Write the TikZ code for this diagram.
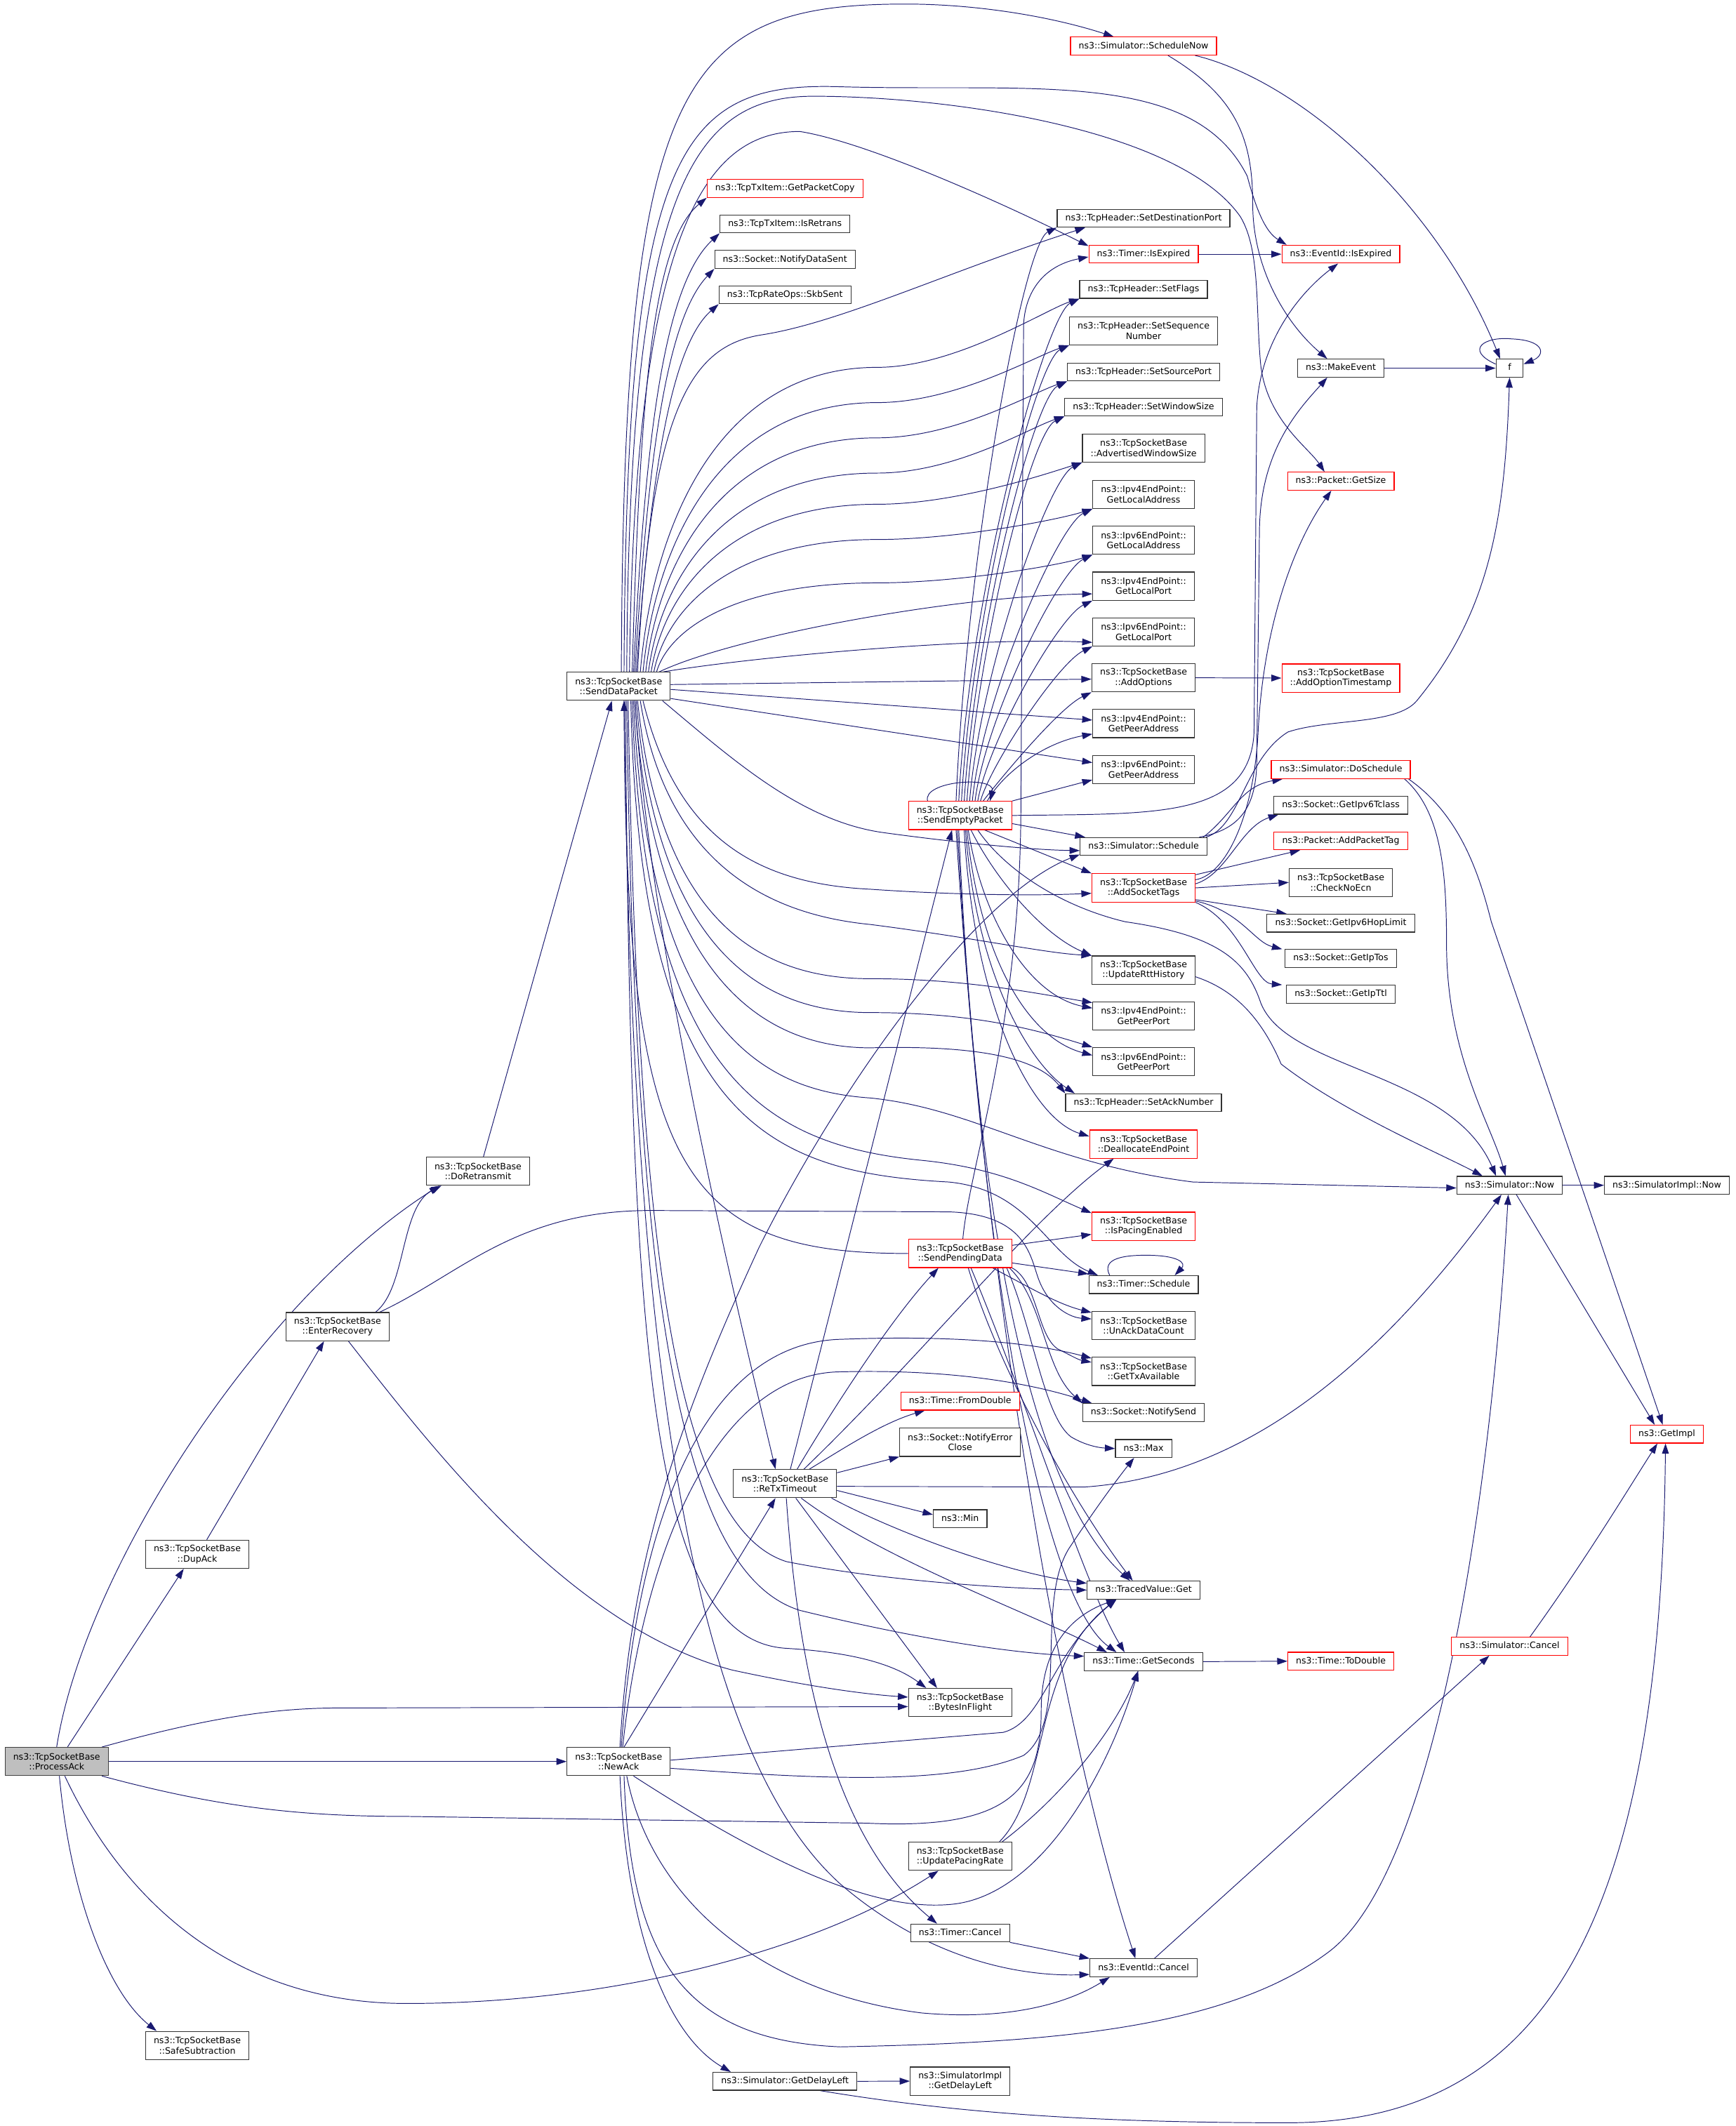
\documentclass[tikz,border=0pt]{standalone}
\usepackage{fontspec}
\setmainfont{DejaVu Sans}
\usetikzlibrary{arrows.meta}
\definecolor{edgeblue}{HTML}{191970}
\definecolor{truncred}{HTML}{FF0000}
\definecolor{boxgray}{HTML}{333333}
\definecolor{curgray}{HTML}{BFBFBF}
\pgfdeclarelayer{paper}
\pgfdeclarelayer{wires}
\pgfsetlayers{paper,wires,main}

\begin{document}
\begin{tikzpicture}[x=1pt, y=-1pt,
    box/.style={draw=boxgray, line width=0.6pt, fill=white, inner xsep=6pt, inner ysep=0pt,
                font=\fontsize{6.5}{7.4}\selectfont},
    fn/.style={box, minimum height=13.2pt, text height=4.9pt, text depth=1.4pt},
    fn2/.style={box, align=center, minimum height=20.8pt},
    trunc/.style={draw=truncred},
    cur/.style={fill=curgray, draw=black!75},
    call/.style={draw=edgeblue, line width=0.5pt, -{Triangle[length=7.5pt,width=5pt]}}]
    % Page
    \begin{pgfonlayer}{paper}
        \fill[white] (0,0) rectangle (1280,1568.4);
    \end{pgfonlayer}
    \useasboundingbox (0,0) rectangle (1280,1568.4);

    % Callers on the left
    \node[fn2,cur] (pa) at (41.8,1299.5) {ns3::TcpSocketBase\\::ProcessAck};
    \node[fn2] (dupack) at (145.5,1146.6) {ns3::TcpSocketBase\\::DupAck};
    \node[fn2] (safesub) at (145.5,1509) {ns3::TcpSocketBase\\::SafeSubtraction};
    \node[fn2] (enterrec) at (249,978.7) {ns3::TcpSocketBase\\::EnterRecovery};
    \node[fn2] (doretx) at (352.6,864) {ns3::TcpSocketBase\\::DoRetransmit};
    \node[fn2] (senddata) at (456.3,506.3) {ns3::TcpSocketBase\\::SendDataPacket};
    \node[fn2] (newack) at (456.3,1299.5) {ns3::TcpSocketBase\\::NewAck};

    % Column of the tx item calls
    \node[fn,trunc] (getcopy) at (579,139) {ns3::TcpTxItem::GetPacketCopy};
    \node[fn] (isretrans) at (579,165.2) {ns3::TcpTxItem::IsRetrans};
    \node[fn] (notifysent) at (579,191.4) {ns3::Socket::NotifyDataSent};
    \node[fn] (skbsent) at (579,217.5) {ns3::TcpRateOps::SkbSent};
    \node[fn2] (retx) at (579,1094.5) {ns3::TcpSocketBase\\::ReTxTimeout};
    \node[fn] (delayleft) at (579,1535.4) {ns3::Simulator::GetDelayLeft};

    % Middle column
    \node[fn2,trunc] (sendempty) at (708.2,601.6) {ns3::TcpSocketBase\\::SendEmptyPacket};
    \node[fn2,trunc] (sendpending) at (708.2,924.7) {ns3::TcpSocketBase\\::SendPendingData};
    \node[fn,trunc] (fromdouble) at (708.2,1033.6) {ns3::Time::FromDouble};
    \node[fn2] (notifyerr) at (708.2,1064) {ns3::Socket::NotifyError\\Close};
    \node[fn] (minv) at (708.2,1120.4) {ns3::Min};
    \node[fn2] (inflight) at (708.2,1256) {ns3::TcpSocketBase\\::BytesInFlight};
    \node[fn2] (pacing) at (708.2,1369.4) {ns3::TcpSocketBase\\::UpdatePacingRate};
    \node[fn] (tcancel) at (708.2,1426) {ns3::Timer::Cancel};
    \node[fn2] (impldelay) at (708.2,1535.3) {ns3::SimulatorImpl\\::GetDelayLeft};

    % Header and endpoint column
    \node[fn,trunc] (schednow) at (843.5,34) {ns3::Simulator::ScheduleNow};
    \node[fn] (setdst) at (843.5,161) {ns3::TcpHeader::SetDestinationPort};
    \node[fn,trunc] (texpired) at (843.5,187.5) {ns3::Timer::IsExpired};
    \node[fn] (setflags) at (843.5,213.5) {ns3::TcpHeader::SetFlags};
    \node[fn2] (setseq) at (843.5,244) {ns3::TcpHeader::SetSequence\\Number};
    \node[fn] (setsrc) at (843.5,274.5) {ns3::TcpHeader::SetSourcePort};
    \node[fn] (setwin) at (843.5,300.3) {ns3::TcpHeader::SetWindowSize};
    \node[fn2] (advwin) at (843.5,330.5) {ns3::TcpSocketBase\\::AdvertisedWindowSize};
    \node[fn2] (v4laddr) at (843.5,364.7) {ns3::Ipv4EndPoint::\\GetLocalAddress};
    \node[fn2] (v6laddr) at (843.5,398.6) {ns3::Ipv6EndPoint::\\GetLocalAddress};
    \node[fn2] (v4lport) at (843.5,432.4) {ns3::Ipv4EndPoint::\\GetLocalPort};
    \node[fn2] (v6lport) at (843.5,466.2) {ns3::Ipv6EndPoint::\\GetLocalPort};
    \node[fn2] (addopt) at (843.5,500) {ns3::TcpSocketBase\\::AddOptions};
    \node[fn2] (v4paddr) at (843.5,533.8) {ns3::Ipv4EndPoint::\\GetPeerAddress};
    \node[fn2] (v6paddr) at (843.5,567.6) {ns3::Ipv6EndPoint::\\GetPeerAddress};
    \node[fn] (sched) at (843.5,624.5) {ns3::Simulator::Schedule};
    \node[fn2,trunc] (addtags) at (843.5,655) {ns3::TcpSocketBase\\::AddSocketTags};
    \node[fn2] (rtthist) at (843.5,715.6) {ns3::TcpSocketBase\\::UpdateRttHistory};
    \node[fn2] (v4pport) at (843.5,749.4) {ns3::Ipv4EndPoint::\\GetPeerPort};
    \node[fn2] (v6pport) at (843.5,783.2) {ns3::Ipv6EndPoint::\\GetPeerPort};
    \node[fn] (setack) at (843.5,813.5) {ns3::TcpHeader::SetAckNumber};
    \node[fn2,trunc] (dealloc) at (843.5,844) {ns3::TcpSocketBase\\::DeallocateEndPoint};
    \node[fn2,trunc] (pacingen) at (843.5,904.6) {ns3::TcpSocketBase\\::IsPacingEnabled};
    \node[fn] (tsched) at (843.5,947.7) {ns3::Timer::Schedule};
    \node[fn2] (unack) at (843.5,978) {ns3::TcpSocketBase\\::UnAckDataCount};
    \node[fn2] (txavail) at (843.5,1011.7) {ns3::TcpSocketBase\\::GetTxAvailable};
    \node[fn] (notifysend) at (843.5,1042) {ns3::Socket::NotifySend};
    \node[fn] (maxv) at (843.5,1068.6) {ns3::Max};
    \node[fn] (tvget) at (843.5,1173) {ns3::TracedValue::Get};
    \node[fn] (getsec) at (843.5,1225.8) {ns3::Time::GetSeconds};
    \node[fn] (ecancel) at (843.5,1451.7) {ns3::EventId::Cancel};

    % Next column
    \node[fn,trunc] (eexpired) at (989,187.5) {ns3::EventId::IsExpired};
    \node[fn] (makeevent) at (989,271.6) {ns3::MakeEvent};
    \node[fn,trunc] (getsize) at (989,355) {ns3::Packet::GetSize};
    \node[fn2,trunc] (addts) at (989,500.2) {ns3::TcpSocketBase\\::AddOptionTimestamp};
    \node[fn,trunc] (dosched) at (989,567.8) {ns3::Simulator::DoSchedule};
    \node[fn] (tclass) at (989,594) {ns3::Socket::GetIpv6Tclass};
    \node[fn,trunc] (addptag) at (989,620.3) {ns3::Packet::AddPacketTag};
    \node[fn2] (checkecn) at (989,651) {ns3::TcpSocketBase\\::CheckNoEcn};
    \node[fn] (hoplimit) at (989,681) {ns3::Socket::GetIpv6HopLimit};
    \node[fn] (iptos) at (989,707.1) {ns3::Socket::GetIpTos};
    \node[fn] (ipttl) at (989,733.4) {ns3::Socket::GetIpTtl};
    \node[fn,trunc] (todouble) at (989,1225.5) {ns3::Time::ToDouble};

    % Right columns
    \node[fn, minimum width=20pt] (f) at (1113.5,271.6) {f};
    \node[fn] (simnow) at (1113.5,874.4) {ns3::Simulator::Now};
    \node[fn,trunc] (simcancel) at (1113.5,1214.5) {ns3::Simulator::Cancel};
    \node[fn] (implnow) at (1229.5,874.4) {ns3::SimulatorImpl::Now};
    \node[fn,trunc] (getimpl) at (1229.5,1058) {ns3::GetImpl};

    \begin{pgfonlayer}{wires}
    % ProcessAck calls
    \draw[call] (pa.north) .. controls (62,1160) and (190,960) .. ([xshift=10pt]doretx.south west);
    \draw[call] ([xshift=8pt]pa.north) -- ([xshift=-10pt]dupack.south);
    \draw[call] ([xshift=-5pt]pa.north east) .. controls (150,1268) and (200,1260) .. (250,1260) -- ([yshift=-3pt]inflight.west);
    \draw[call] (pa.east) -- (newack.west);
    \draw[call] ([xshift=-5pt]pa.south east) .. controls (160,1333) and (220,1340) .. (300,1340) -- (640,1345) .. controls (745,1350) and (768,1320) .. (768,1262) .. controls (768,1215) and (790,1192) .. ([xshift=-20pt]tvget.south);
    \draw[call] ([xshift=6pt]pa.south) .. controls (90,1400) and (170,1478) .. (300,1478) .. controls (450,1478) and (600,1440) .. ([xshift=-16pt]pacing.south);
    \draw[call] ([xshift=2pt]pa.south) .. controls (52,1400) and (80,1470) .. ([xshift=-30pt]safesub.north);

    % DupAck, EnterRecovery, DoRetransmit
    \draw[call] ([xshift=7pt]dupack.north) -- ([xshift=-10pt]enterrec.south);
    \draw[call] ([xshift=28pt]enterrec.north) .. controls (300,950) and (295,890) .. ([xshift=-27pt]doretx.south);
    \draw[call] ([xshift=31pt]enterrec.north) .. controls (340,940) and (380,893) .. (480,893) -- (700,894) .. controls (760,896) and (760,930) .. (767,946) .. controls (775,965) and (790,972) .. ([yshift=5pt]unack.west);
    \draw[call] ([xshift=8pt]enterrec.south) .. controls (320,1070) and (420,1200) .. (540,1232) .. controls (600,1245) and (640,1250) .. ([yshift=4pt]inflight.west);
    \draw[call] ([xshift=4pt]doretx.north) -- ([xshift=-5pt]senddata.south);

    % SendDataPacket, upwards
    \draw[call] ([xshift=2pt]senddata.north) .. controls (460,60) and (500,3) .. (668,3) .. controls (720,3) and (775,12) .. ([xshift=-22pt]schednow.north);
    \draw[call] ([xshift=4pt]senddata.north) .. controls (462,110) and (500,60) .. (620,64) .. controls (760,68) and (880,50) .. (920,130) .. controls (928,160) and (935,172) .. ([xshift=-40pt]eexpired.north);
    \draw[call] ([xshift=6pt]senddata.north) .. controls (464,140) and (510,71) .. (600,71) .. controls (700,71) and (870,95) .. (915,160) .. controls (930,185) and (926,230) .. (930,270) .. controls (935,310) and (965,330) .. ([xshift=-12pt]getsize.north);
    \draw[call] ([xshift=8pt]senddata.north) .. controls (468,170) and (520,97) .. (590,97) .. controls (640,105) and (740,150) .. ([yshift=6pt]texpired.west);
    \draw[call] ([xshift=10pt]senddata.north) .. controls (472,300) and (480,180) .. (getcopy.south west);
    \draw[call] ([xshift=11pt]senddata.north) .. controls (476,320) and (490,210) .. (isretrans.south west);
    \draw[call] ([xshift=12pt]senddata.north) .. controls (478,335) and (492,235) .. (notifysent.south west);
    \draw[call] ([xshift=13pt]senddata.north) .. controls (480,350) and (495,255) .. (skbsent.south west);
    \draw[call] ([xshift=14pt]senddata.north) .. controls (480,300) and (510,255) .. (562,247) .. controls (620,238) and (700,200) .. ([xshift=21pt]setdst.south west);
    \foreach \nd/\dx/\ym in {setflags/16/271, setseq/18/297, setsrc/20/323, setwin/22/349, advwin/24/372, v4laddr/26/398, v6laddr/28/430}
        \draw[call] ([xshift=\dx pt]senddata.north) .. controls ({466+\dx},{(496+\ym)/2}) and ({516+\dx},\ym) .. (647,\ym) .. controls (705,\ym) and ([xshift=-25pt,yshift=-8pt]\nd.south west) .. (\nd.south west);
    \draw[call] ([xshift=30pt]senddata.north) .. controls (540,470) and (700,440) .. ([yshift=5pt]v4lport.south west);
    \draw[call] ([xshift=33pt]senddata.north) .. controls (560,484) and (720,470) .. ([yshift=3pt]v6lport.south west);
    \draw[call] ([yshift=1.3pt]senddata.east) -- ([yshift=-1pt]addopt.west);
    \draw[call] ([yshift=-2.3pt]senddata.east) -- ([yshift=2.6pt]v4paddr.west);
    \draw[call] ([yshift=-9pt]senddata.east) -- ([yshift=5pt]v6paddr.west);

    % SendDataPacket, downwards
    \draw[call] ([xshift=-6pt]senddata.south east) .. controls (540,560) and (590,605) .. (650,614) .. controls (700,621) and (760,627) .. ([yshift=-3pt]sched.west);
    \draw[call] ([xshift=18pt]senddata.south) .. controls (500,620) and (560,652) .. (642,656) .. controls (700,660) and (760,661) .. ([yshift=-4pt]addtags.west);
    \draw[call] ([xshift=16pt]senddata.south) .. controls (492,640) and (570,675) .. (642,682) .. controls (720,692) and (770,703) .. (rtthist.north west);
    \draw[call] ([xshift=14pt]senddata.south) .. controls (488,690) and (570,722) .. (642,722) .. controls (710,722) and (760,732) .. ([yshift=-1pt]v4pport.north west);
    \draw[call] ([xshift=13pt]senddata.south) .. controls (485,710) and (570,747) .. (642,747) .. controls (720,747) and (765,760) .. (v6pport.north west);
    \draw[call] ([xshift=12pt]senddata.south) .. controls (482,730) and (570,773) .. (642,773) .. controls (720,771) and (765,780) .. (setack.north west);
    \draw[call] ([xshift=11pt]senddata.south) .. controls (478,770) and (570,805) .. (642,810) .. controls (720,818) and (770,858) .. (880,872) -- ([yshift=-2pt]simnow.west);
    \draw[call] ([xshift=10pt]senddata.south) .. controls (475,800) and (570,845) .. (680,856) .. controls (740,862) and (770,880) .. ([yshift=-1pt]pacingen.north west);
    \draw[call] ([xshift=9pt]senddata.south) .. controls (472,830) and (570,865) .. (700,872) .. controls (760,878) and (772,925) .. ([xshift=7pt]tsched.north west);
    \draw[call] ([xshift=12pt]senddata.south) .. controls (480,700) and (540,950) .. ([xshift=-7pt]retx.north);
    \draw[call] ([xshift=7pt]senddata.south) .. controls (470,900) and (495,1125) .. (580,1152) .. controls (650,1166) and (740,1172) .. (tvget.west);
    \draw[call] ([xshift=6pt]senddata.south) .. controls (468,950) and (500,1160) .. (590,1188) .. controls (680,1210) and (750,1220) .. ([yshift=4pt]getsec.west);
    \draw[call] ([xshift=5pt]senddata.south) .. controls (465,1000) and (480,1210) .. (580,1216) .. controls (630,1219) and (660,1228) .. ([xshift=-25pt]inflight.north);
    \draw[call] ([xshift=4pt]senddata.south) .. controls (466,1050) and (520,1300) .. (620,1390) .. controls (690,1450) and (760,1458) .. ([yshift=2pt]ecancel.south west);

    % SendEmptyPacket
    \foreach \nd/\dx/\ty in {setdst/-3/168, setflags/-1/220, setseq/1/254, setsrc/3/281, setwin/5/307, advwin/7/340, v4laddr/9/374, v6laddr/11/408, v4lport/13/442, v6lport/15/476, addopt/17/510}
        \draw[call] ([xshift=\dx pt]sendempty.north) .. controls ({716+\dx},{(591+\ty)/2+30}) and ([xshift=-25pt,yshift=-12pt]\nd.south west) .. (\nd.south west);
    \draw[call] ([xshift=20pt]sendempty.north) .. controls (740,570) and (770,548) .. ([yshift=3pt]v4paddr.south west);
    \draw[call] (sendempty.north east) -- ([yshift=3pt]v6paddr.south west);
    \draw[call] ([xshift=-24pt]sendempty.north) .. controls (680,576) and (735,572) .. ([xshift=22pt]sendempty.north);
    \draw[call] ([yshift=-6pt]sendempty.east) -- ([xshift=4pt]sched.north west);
    \draw[call] (sendempty.east) .. controls (850,600) and (922,605) .. (925,540) -- (927,300) .. controls (930,250) and (960,215) .. ([xshift=-2pt]eexpired.south);
    \draw[call] ([xshift=18pt]sendempty.south) -- (addtags.north west);
    \draw[call] ([xshift=13pt]sendempty.south) .. controls (740,640) and (780,668) .. (830,680) .. controls (900,690) and (920,710) .. (930,740) .. controls (950,790) and (1070,790) .. ([xshift=-10pt]simnow.north);
    \draw[call] ([xshift=8pt]sendempty.south) .. controls (735,650) and (770,690) .. (rtthist.north west);
    \draw[call] ([xshift=6pt]sendempty.south) .. controls (725,680) and (760,735) .. ([yshift=-5pt]v4pport.north west);
    \draw[call] ([xshift=5pt]sendempty.south) .. controls (722,700) and (755,765) .. ([yshift=-6pt]v6pport.north west);
    \draw[call] ([xshift=4pt]sendempty.south) .. controls (720,720) and (760,785) .. ([xshift=7pt]setack.north west);
    \draw[call] ([xshift=3pt]sendempty.south) .. controls (718,740) and (760,825) .. ([yshift=-5pt]dealloc.north west);
    \draw[call] ([xshift=-1pt]sendempty.south) .. controls (720,900) and (760,1100) .. ([xshift=-10pt]tvget.north);
    \draw[call] ([xshift=-2pt]sendempty.south) .. controls (725,950) and (770,1180) .. ([xshift=-20pt]getsec.north);
    \draw[call] ([xshift=-3pt]sendempty.south) .. controls (730,1000) and (790,1300) .. ([xshift=-6pt]ecancel.north);

    % SendPendingData
    \draw[call] (sendpending.west) .. controls (500,925) and (462,860) .. ([xshift=4pt]senddata.south);
    \draw[call] ([xshift=2pt]sendpending.north) .. controls (715,860) and (752,760) .. (753,600) -- (755,240) .. controls (756,215) and (770,196) .. ([yshift=-2pt]texpired.west);
    \draw[call] ([yshift=6pt]sendpending.east) -- ([yshift=-6pt]pacingen.west);
    \draw[call] ([yshift=-7pt]sendpending.east) -- ([yshift=1pt]tsched.north west);
    \draw[call] ([xshift=24pt]sendpending.south) .. controls (760,950) and (780,962) .. ([yshift=-1pt]unack.north west);
    \draw[call] (sendpending.south east) .. controls (765,945) and (765,985) .. (780,995) .. controls (790,1000) and (795,1003) .. ([yshift=-4pt]txavail.north west);
    \draw[call] ([xshift=-2pt]sendpending.south east) .. controls (770,960) and (770,1010) .. (notifysend.north west);
    \draw[call] ([xshift=-4pt]sendpending.south east) .. controls (762,980) and (770,1045) .. (790,1060) .. controls (800,1066) and (810,1068) .. (maxv.west);
    \draw[call] ([xshift=6pt]sendpending.south) .. controls (740,1020) and (800,1120) .. ([xshift=-8pt]tvget.north);
    \draw[call] ([xshift=8pt]sendpending.south) .. controls (760,1040) and (800,1170) .. ([xshift=-14pt]getsec.north);

    % ReTxTimeout
    \draw[call] ([xshift=4pt]retx.north) -- ([xshift=-6pt]sendempty.south);
    \draw[call] ([xshift=9pt]retx.north) .. controls (620,1030) and (660,970) .. ([xshift=-16pt]sendpending.south);
    \draw[call] ([xshift=14pt]retx.north) .. controls (680,1000) and (760,900) .. ([xshift=-22pt]dealloc.south);
    \draw[call] ([xshift=18pt]retx.north) .. controls (620,1070) and (650,1050) .. ([xshift=-26pt]fromdouble.south);
    \draw[call] ([yshift=8pt]retx.east) -- (notifyerr.south west);
    \draw[call] ([yshift=-2pt]retx.east) -- (800,1097) .. controls (900,1090) and (1000,1030) .. ([xshift=-6pt]simnow.south);
    \draw[call] ([yshift=-5pt]retx.east) -- ([yshift=3pt]minv.west);
    \draw[call] ([xshift=-4pt]retx.south east) .. controls (660,1130) and (740,1160) .. ([yshift=5pt]tvget.west);
    \draw[call] ([xshift=12pt]retx.south) .. controls (650,1150) and (760,1190) .. ([xshift=-27pt]getsec.north);
    \draw[call] ([xshift=8pt]retx.south) -- ([xshift=-17pt]inflight.north);
    \draw[call] ([xshift=1pt]retx.south) .. controls (590,1250) and (620,1360) .. ([xshift=-17pt]tcancel.north);

    % NewAck
    \draw[call] ([xshift=4pt]newack.north) -- ([xshift=-7pt]retx.south);
    \draw[call] ([xshift=1pt]newack.north) .. controls (465,1150) and (500,1050) .. (560,920) .. controls (620,800) and (720,660) .. ([yshift=1pt]sched.south west);
    \draw[call] ([xshift=2pt]newack.north) .. controls (470,1120) and (520,990) .. (621,988) .. controls (700,985) and (760,990) .. ([yshift=-1pt]txavail.north west);
    \draw[call] ([xshift=3pt]newack.north) .. controls (475,1140) and (530,1012) .. (621,1012) .. controls (700,1010) and (760,1020) .. ([xshift=7pt]notifysend.north west);
    \draw[call] ([yshift=1pt]newack.east) -- (740,1278) .. controls (770,1270) and (775,1220) .. ([xshift=-20pt]tvget.south);
    \draw[call] ([yshift=-5pt]newack.east) .. controls (600,1312) and (700,1318) .. (755,1295) .. controls (790,1270) and (762,1180) .. (790,1140) .. controls (810,1110) and (825,1090) .. ([xshift=-7pt]maxv.south);
    \draw[call] ([xshift=11pt]newack.south) .. controls (560,1370) and (640,1410) .. (700,1405) .. controls (770,1400) and (820,1300) .. ([xshift=-4pt]getsec.south);
    \draw[call] ([xshift=6pt]newack.south) .. controls (480,1400) and (560,1470) .. (680,1485) .. controls (760,1492) and (800,1470) .. ([xshift=-25pt]ecancel.south);
    \draw[call] ([xshift=4pt]newack.south) .. controls (465,1440) and (500,1505) .. (620,1510) .. controls (760,1507) and (900,1500) .. (980,1440) .. controls (1060,1380) and (1100,1100) .. ([xshift=-1pt]simnow.south);
    \draw[call] ([xshift=1pt]newack.south) .. controls (462,1420) and (490,1500) .. ([xshift=-40pt]delayleft.north);

    % Pacing, timers and events
    \draw[call] ([xshift=29pt]pacing.north) .. controls (775,1320) and (760,1230) .. ([xshift=-20pt]tvget.south);
    \draw[call] ([xshift=31pt]pacing.north) .. controls (790,1320) and (825,1270) .. ([xshift=-4pt]getsec.south);
    \draw[call] (tcancel.south east) -- (ecancel.north west);
    \draw[call] ([xshift=8pt]ecancel.north) -- ([xshift=-15pt]simcancel.south);
    \draw[call] ([xshift=15pt]simcancel.north) .. controls (1170,1150) and (1200,1100) .. ([xshift=-7pt]getimpl.south);
    \draw[call] (delayleft.east) -- (impldelay.west);
    \draw[call] ([xshift=26pt]delayleft.south) .. controls (700,1558) and (800,1566) .. (950,1566) .. controls (1150,1566) and (1225,1400) .. ([xshift=-1pt]getimpl.south);
    \draw[call] (simnow.east) -- (implnow.west);
    \draw[call] ([xshift=5pt]simnow.south) -- ([xshift=-9pt]getimpl.north);
    \draw[call] (getsec.east) -- (todouble.west);
    \draw[call] (texpired.east) -- (eexpired.west);
    \draw[call] (addopt.east) -- (addts.west);

    % Scheduling
    \draw[call] ([xshift=-3pt]sched.north east) .. controls (910,600) and (915,580) .. ([xshift=-43pt]dosched.south);
    \draw[call] ([xshift=-6pt]sched.north east) .. controls (915,612) and (927,595) .. (927,560) -- (929,390) .. controls (930,330) and (960,300) .. ([xshift=-10pt]makeevent.south);
    \draw[call] ([xshift=-1pt]sched.north east) .. controls (915,610) and (918,560) .. (950,540) .. controls (980,530) and (1030,535) .. (1045,517) .. controls (1100,450) and (1110,380) .. (f.south);
    \draw[call] ([xshift=47pt]dosched.south) .. controls (1065,600) and (1067,650) .. (1067,700) .. controls (1068,780) and (1100,830) .. ([xshift=-3pt]simnow.north);
    \draw[call] ([xshift=50pt]dosched.south) .. controls (1075,600) and (1090,640) .. (1100,680) -- ([xshift=-3pt]getimpl.north);
    \draw[call] ([yshift=-5pt]rtthist.east) .. controls (910,730) and (930,750) .. (945,785) .. controls (990,820) and (1060,850) .. ([xshift=-20pt]simnow.north);
    \draw[call] ([xshift=18pt]schednow.south) .. controls (910,70) and (924,100) .. (924,150) .. controls (924,200) and (950,240) .. ([xshift=-10pt]makeevent.north);
    \draw[call] ([xshift=38pt]schednow.south) .. controls (960,60) and (1060,150) .. ([xshift=-7pt]f.north);
    \draw[call] (makeevent.east) -- (f.west);
    \draw[call] ([yshift=3pt]f.west) .. controls (1080,258) and (1095,248) .. (1115,250) .. controls (1140,251) and (1140,262) .. ([yshift=3pt]f.east);
    \draw[call] ([xshift=-25pt]tsched.north) .. controls (812,928) and (830,926) .. (845,926) .. controls (870,926) and (875,932) .. ([xshift=23pt]tsched.north);

    % AddSocketTags
    \draw[call] ([yshift=-1pt]addtags.north east) -- ([xshift=-30pt]addptag.south);
    \draw[call] ([yshift=3pt]addtags.east) .. controls (905,645) and (915,610) .. ([xshift=-46pt]tclass.south);
    \draw[call] ([yshift=6pt]addtags.east) .. controls (905,645) and (925,600) .. (928,540) .. controls (932,460) and (955,400) .. ([xshift=-7pt]getsize.south);
    \draw[call] (addtags.east) -- (checkecn.west);
    \draw[call] ([yshift=2pt]addtags.south east) -- ([xshift=-40pt]hoplimit.north);
    \draw[call] ([yshift=1pt]addtags.south east) .. controls (915,672) and (925,695) .. ([xshift=-2pt]iptos.north west);
    \draw[call] (addtags.south east) .. controls (915,680) and (925,725) .. ([xshift=-3pt]ipttl.north west);
    \end{pgfonlayer}
\end{tikzpicture}
\end{document}
